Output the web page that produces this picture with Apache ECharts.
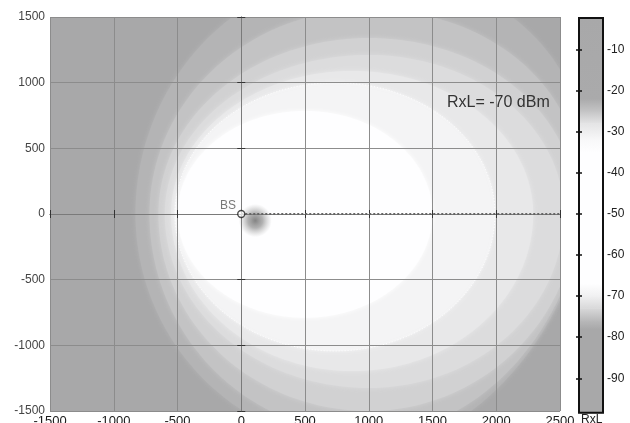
<!DOCTYPE html>
<html>
<head>
<meta charset="utf-8" />
<title>RxL map</title>
<script src="https://cdn.jsdelivr.net/npm/echarts@6/dist/echarts.min.js" type="text/javascript"></script>
<style>
	html, body { margin:0; padding:0; background:#fff; }
	#rxlmap { width:630px; height:423px; }
</style>
</head>
<body>
<div id="rxlmap"></div>
<script type="text/javascript">
	/****************** data ******************/
	// received level outside all bands (dBm)
	var bgLevel = -78;
	// level bands, outermost first: level (dBm), centre x and reach (m) to each side
	var bandLevel  = [-76.5, -75.0, -73.7, -72.5, -71.0, -69.2, -66.0];
	var bandCx     = [1000, 1000, 1000, 1000, 872, 735, 500];
	var bandLeft   = [1830, 1720, 1650, 1600, 1422, 1255, 1000];
	var bandRight  = [1708, 1673, 1629, 1530, 1418, 1255, 1000];
	var bandTop    = [1850, 1560, 1340, 1211, 1089, 1000, 785];
	var bandBottom = [1780, 1680, 1500, 1325, 1196, 1043, 790];
	var bandSkew   = [0.144, 0.094, 0.03, 0, 0, 0, 0];

	// dark spot next to the base station
	var blobCenter = [110, -50];
	var blobRadius = [130, 150];

	// base station and track
	var bsPos  = [0, 0];
	var trackX = [0, 2500];
	var trackY = [0, 0];

	// colour bar: level (dBm) -> grey value
	var barStops = [-98.4, -78, -76, -73, -70, -67, -35, -32, -28, -25, -22, -2.4];
	var barGray  = [168, 168, 184, 216, 240, 254, 254, 248, 228, 196, 170, 168];
	var barTicks = [-90, -80, -70, -60, -50, -40, -30, -20, -10];

	function grayAt(level) {
		if (level <= barStops[0]) return barGray[0];
		for (var i = 0; i < barStops.length - 1; i++) {
			if (level <= barStops[i + 1]) {
				var f = (level - barStops[i]) / (barStops[i + 1] - barStops[i]);
				return Math.round(barGray[i] + f * (barGray[i + 1] - barGray[i]));
			}
		}
		return barGray[barGray.length - 1];
	}
	function colorAt(level) {
		var g = grayAt(level);
		return 'rgb(' + g + ',' + g + ',' + Math.min(255, g + 1) + ')';
	}

	var myChart = echarts.init(document.getElementById('rxlmap'));

	function renderBand(params, api) {
		var i = params.dataIndex;
		var pts = [];
		for (var k = 0; k < 180; k++) {
			var t = k / 180 * Math.PI * 2;
			var c = Math.cos(t), s = Math.sin(t);
			var dy = s * (s >= 0 ? bandTop[i] : bandBottom[i]);
			var dx = c >= 0 ? c * (bandRight[i] + bandSkew[i] * dy) : c * bandLeft[i];
			pts.push(api.coord([bandCx[i] + dx, dy]));
		}
		var fill = colorAt(bandLevel[i]);
		var contour = bandLevel[i] > -70 && bandLevel[i] < -68;
		return {
			type: 'polygon',
			shape: { points: pts },
			style: {
				fill: fill,
				shadowBlur: 5,
				shadowColor: fill,
				stroke: contour ? 'rgba(255,255,255,0.9)' : null,
				lineWidth: 1,
				lineDash: [1, 2]
			}
		};
	}

	function renderBlob(params, api) {
		var c = api.coord(blobCenter);
		var sz = api.size([blobRadius[0], blobRadius[1]]);
		return {
			type: 'ellipse',
			shape: { cx: c[0], cy: c[1], rx: sz[0], ry: sz[1] },
			style: {
				fill: {
					type: 'radial', x: 0.5, y: 0.5, r: 0.5,
					colorStops: [
						{ offset: 0, color: 'rgba(125,125,125,0.95)' },
						{ offset: 0.45, color: 'rgba(145,145,145,0.7)' },
						{ offset: 1, color: 'rgba(180,180,180,0)' }
					]
				}
			}
		};
	}

	function renderBar(params, api) {
		var i = params.dataIndex;
		var p0 = api.coord([0, barStops[i]]);
		var p1 = api.coord([1, barStops[i + 1]]);
		return {
			type: 'rect',
			shape: { x: p0[0], y: p1[1], width: p1[0] - p0[0], height: p0[1] - p1[1] + 0.5 },
			style: {
				fill: {
					type: 'linear', x: 0, y: 0, x2: 0, y2: 1,
					colorStops: [
						{ offset: 0, color: colorAt(barStops[i + 1]) },
						{ offset: 1, color: colorAt(barStops[i]) }
					]
				}
			}
		};
	}

	function renderFrame(params, api) {
		var p0 = api.coord([0, barStops[0]]);
		var p1 = api.coord([1, barStops[barStops.length - 1]]);
		return {
			type: 'rect',
			shape: { x: p0[0], y: p1[1], width: p1[0] - p0[0], height: p0[1] - p1[1] },
			style: { fill: null, stroke: '#111', lineWidth: 2 }
		};
	}

	var bandIdx = bandLevel.map(function (v, i) { return [i]; });
	var barIdx = barStops.slice(1).map(function (v, i) { return [i]; });
	var trackData = trackX.map(function (x, i) { return [x, trackY[i]]; });
	var plain = function (v) { return String(v); };

	var gridLine = { show: true, lineStyle: { color: '#8c8c8c', width: 1 } };
	var edgeLine = { show: true, lineStyle: { color: '#7a7a7a', width: 1 } };
	var innerTick = { show: true, inside: true, length: 4, lineStyle: { color: '#333' } };

	var option = {
		animation: false,
		textStyle: { fontFamily: 'Liberation Sans, Arial, sans-serif' },
		grid: [
			{ left: 50, right: 70, top: 17, bottom: 12, outerBoundsMode: 'none', containLabel: false,
			  show: true, backgroundColor: colorAt(bgLevel), borderWidth: 0 },
			{ left: 579, width: 24, top: 8.2, height: 411.2, outerBoundsMode: 'none', containLabel: false }
		],
		xAxis: [
			{
				type: 'value', gridIndex: 0, min: -1500, max: 2500, interval: 500, z: 5,
				axisLine: edgeLine, axisTick: innerTick, splitLine: gridLine,
				axisLabel: { margin: 4, fontSize: 13, color: '#1a1a1a', formatter: plain }
			},
			{
				type: 'value', gridIndex: 0, position: 'top', min: -1500, max: 2500, interval: 500, z: 5,
				axisLine: edgeLine, axisTick: innerTick, splitLine: { show: false }, axisLabel: { show: false }
			},
			{ type: 'value', gridIndex: 1, min: 0, max: 1, show: false }
		],
		yAxis: [
			{
				type: 'value', gridIndex: 0, min: -1500, max: 1500, interval: 500, z: 5,
				axisLine: edgeLine, axisTick: innerTick, splitLine: gridLine,
				axisLabel: { margin: 5, fontSize: 12, color: '#444', formatter: plain }
			},
			{
				type: 'value', gridIndex: 0, position: 'right', min: -1500, max: 1500, interval: 500, z: 5,
				axisLine: edgeLine, axisTick: innerTick, splitLine: { show: false }, axisLabel: { show: false }
			},
			{
				type: 'value', gridIndex: 1, position: 'right', min: -100, max: 0, interval: 10, z: 5,
				axisLine: { show: false }, splitLine: { show: false },
				axisTick: { show: true, inside: true, length: 3, customValues: barTicks, lineStyle: { color: '#111', width: 1.5 } },
				axisLabel: { margin: 4, fontSize: 12, color: '#222', customValues: barTicks, formatter: plain }
			},
			{
				type: 'value', gridIndex: 1, position: 'left', min: -100, max: 0, interval: 10, z: 5,
				axisLine: { show: false }, splitLine: { show: false }, axisLabel: { show: false },
				axisTick: { show: true, inside: true, length: 3, customValues: barTicks, lineStyle: { color: '#111', width: 1.5 } }
			}
		],
		graphic: [
			{ type: 'text', left: 447, top: 95, z: 20, style: { text: 'RxL= -70 dBm', font: '16px Liberation Sans', fill: '#333' } },
			{ type: 'text', left: 581, top: 414, z: 20, style: { text: 'RxL', font: '12px Liberation Sans', fill: '#222' } }
		],
		series: [
			{
				type: 'custom', xAxisIndex: 0, yAxisIndex: 0, clip: true, silent: true, z: 1,
				renderItem: renderBand, data: bandIdx
			},
			{
				type: 'custom', xAxisIndex: 0, yAxisIndex: 0, clip: true, silent: true, z: 1,
				renderItem: renderBlob, data: [[0]]
			},
			{
				type: 'line', xAxisIndex: 0, yAxisIndex: 0, z: 6, showSymbol: false, silent: true,
				lineStyle: { color: '#666', width: 2, type: [2, 2] },
				data: trackData
			},
			{
				type: 'scatter', xAxisIndex: 0, yAxisIndex: 0, z: 7, silent: true,
				symbol: 'circle', symbolSize: 7,
				itemStyle: { color: '#fff', borderColor: '#222', borderWidth: 1.4 },
				label: { show: true, formatter: 'BS', position: 'left', distance: 1, offset: [0, -8], fontSize: 12, color: '#555' },
				data: [bsPos]
			},
			{
				type: 'custom', xAxisIndex: 2, yAxisIndex: 2, silent: true, z: 2,
				renderItem: renderBar, data: barIdx
			},
			{
				type: 'custom', xAxisIndex: 2, yAxisIndex: 2, silent: true, z: 3,
				renderItem: renderFrame, data: [[0]]
			}
		]
	};
	myChart.setOption(option);
</script>
</body>
</html>
